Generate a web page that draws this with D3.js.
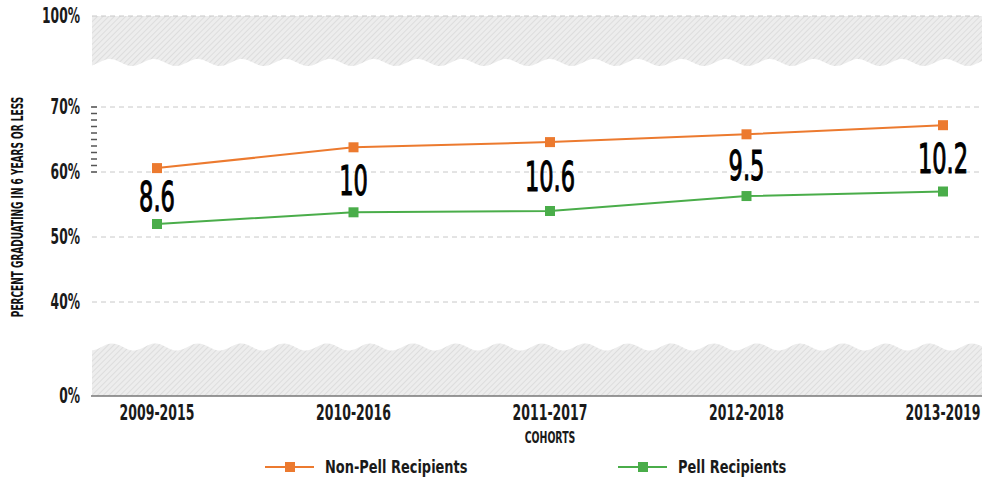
<!DOCTYPE html>
<html><head><meta charset="utf-8">
<script src="https://cdn.jsdelivr.net/npm/d3@7"></script>
<style>
html,body{margin:0;padding:0;background:#fff;}
text{font-family:"DejaVu Sans",sans-serif;}
</style></head>
<body><svg id="c" width="982" height="482"></svg>
<script>
const cohorts = ["2009-2015","2010-2016","2011-2017","2012-2018","2013-2019"];
const nonPell = [60.6, 63.8, 64.6, 65.8, 67.2];
const pell = [52.0, 53.8, 54.0, 56.3, 57.0];
const gapLabels = ["8.6","10","10.6","9.5","10.2"];
const yTicks = [0, 40, 50, 60, 70, 100];
const yTickLabels = ["0%","40%","50%","60%","70%","100%"];
const minorTicks = [61,62,63,64,65,66,67,68,69];
const seriesNames = ["Non-Pell Recipients","Pell Recipients"];
const colors = ["#ec7a2f","#4aad4a"];

const svg = d3.select("#c");
const left = 92, right = 982;
// broken axis: piecewise linear scale
const y = d3.scaleLinear().domain([0, 30, 40, 70, 80, 100]).range([396, 341, 302, 107, 66, 16]);
const x = d3.scalePoint().domain(cohorts).range([157, 943]);

// condensed text helper
function ctext(sel, px, py, str, opts) {
  const o = Object.assign({size:16, sx:0.6, anchor:"middle", weight:"bold", rot:0, fill:"#1a1a1a", dy:"0", stroke:0}, opts);
  const t = sel.append("text")
    .attr("transform", `translate(${px},${py}) rotate(${o.rot}) scale(${o.sx},1)`)
    .attr("text-anchor", o.anchor).attr("font-size", o.size).attr("font-weight", o.weight)
    .attr("dy", o.dy).attr("fill", o.fill).text(str);
  if (o.stroke) t.attr("stroke", o.fill).attr("stroke-width", o.stroke);
  return t;
}

// hatch pattern
const defs = svg.append("defs");
const pat = defs.append("pattern").attr("id","hatch").attr("patternUnits","userSpaceOnUse")
  .attr("width",4).attr("height",4).attr("patternTransform","rotate(45)");
pat.append("rect").attr("width",4).attr("height",4).attr("fill","#ededed");
pat.append("line").attr("x1",0).attr("y1",0).attr("x2",0).attr("y2",4).attr("stroke","#d6d6d6").attr("stroke-width",1.4);

function wavePath(yEdge, yBase, amp, period, phase) {
  const pts = [];
  for (let px = left; px <= right; px += 2) {
    pts.push([px, yBase + amp * Math.cos((px - left) / period * 2 * Math.PI + phase)]);
  }
  let d = `M${left},${yEdge}L${right},${yEdge}`;
  for (let i = pts.length - 1; i >= 0; i--) d += `L${pts[i][0]},${pts[i][1].toFixed(2)}`;
  return d + "Z";
}
svg.append("path").attr("d", wavePath(y(100), 62.5, 3.5, 44, 0.6)).attr("fill","url(#hatch)");
svg.append("path").attr("d", wavePath(y(0), 347, 3.5, 43, 0.2)).attr("fill","url(#hatch)");

// gridlines
svg.append("g").selectAll("line").data(yTicks.filter(d => d !== 0)).join("line")
  .attr("x1", left).attr("x2", right).attr("y1", d => y(d)).attr("y2", d => y(d))
  .attr("stroke","#c8c8c8").attr("stroke-width",1).attr("stroke-dasharray","5,4");
svg.append("line").attr("x1", left - 1).attr("x2", right).attr("y1", y(0)).attr("y2", y(0))
  .attr("stroke","#777").attr("stroke-width",1.5);

// minor ticks
svg.append("g").selectAll("line").data(minorTicks.concat([60,70])).join("line")
  .attr("x1", 91).attr("x2", 97).attr("y1", d => y(d)).attr("y2", d => y(d))
  .attr("stroke","#555").attr("stroke-width",1.5);

// y tick labels
const gy = svg.append("g");
yTicks.forEach((d,i) => ctext(gy, 80, y(d), yTickLabels[i], {size:20.5, sx:0.6, anchor:"end", dy:"0.36em"}));

// y title
ctext(svg, 23, 207, "PERCENT GRADUATING IN 6 YEARS OR LESS", {size:15, sx:0.6, rot:-90, fill:"#111"});

// x labels
const gx = svg.append("g");
cohorts.forEach(c => ctext(gx, x(c), 420, c, {size:20.5, sx:0.61}));
ctext(svg, x(cohorts[2]), 443, "COHORTS", {size:16.5, sx:0.57});

// lines
const line = d3.line().x((d,i) => x(cohorts[i])).y(d => y(d));
[nonPell, pell].forEach((s, k) => {
  svg.append("path").datum(s).attr("d", line).attr("fill","none")
    .attr("stroke", colors[k]).attr("stroke-width",2);
  svg.append("g").selectAll("rect").data(s).join("rect")
    .attr("x",(d,i) => x(cohorts[i]) - 5).attr("y", d => y(d) - 5)
    .attr("width",10).attr("height",10).attr("fill",colors[k]);
});

// gap labels
const gg = svg.append("g");
gapLabels.forEach((t,i) => ctext(gg, x(cohorts[i]), y((nonPell[i] + pell[i]) / 2), t,
  {size:41, sx:0.55, weight:"normal", stroke:1.2, dy:"0.36em", fill:"#000"}));

// legend
const legX = [265, 618];
seriesNames.forEach((n, k) => {
  const g = svg.append("g").attr("transform", `translate(${legX[k]},467)`);
  g.append("line").attr("x1",0).attr("x2",49).attr("stroke",colors[k]).attr("stroke-width",2);
  g.append("rect").attr("x",20).attr("y",-5).attr("width",10).attr("height",10).attr("fill",colors[k]);
  ctext(g, 60, 0, n, {size:18, sx:0.72, anchor:"start", dy:"0.36em"});
});
</script></body></html>
